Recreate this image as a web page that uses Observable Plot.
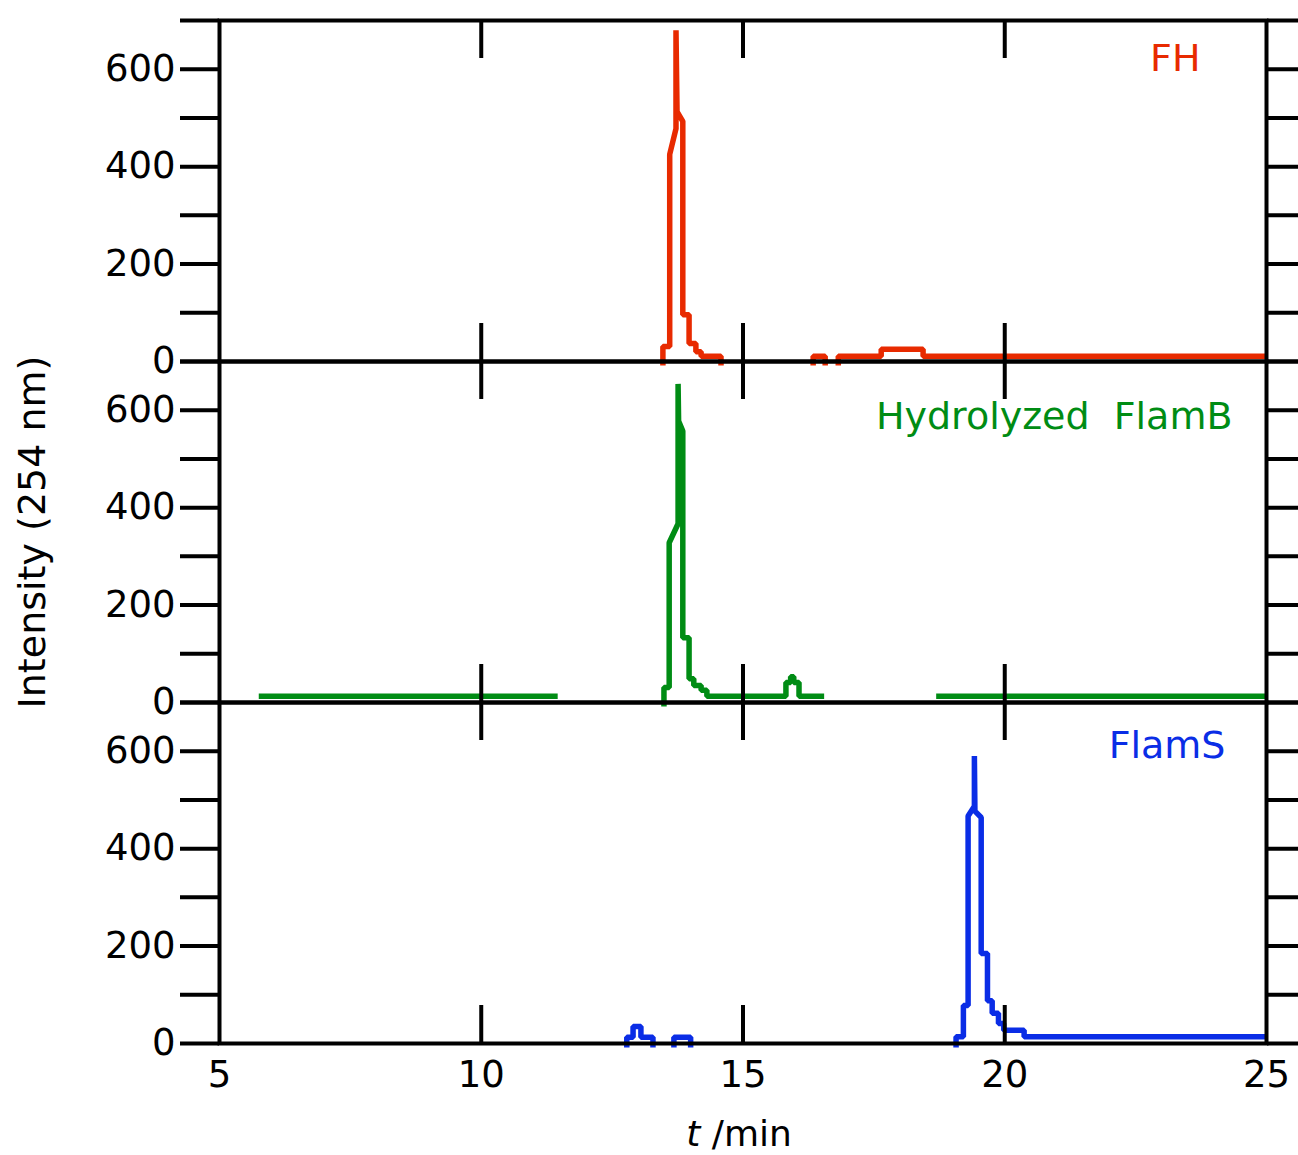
<!DOCTYPE html>
<html>
<head>
<meta charset="utf-8">
<script src="https://cdn.jsdelivr.net/npm/d3@7"></script>
<script src="https://cdn.jsdelivr.net/npm/@observablehq/plot@0.6"></script>
<style>
  body { margin: 0; background: #fff; }
  svg { display: block; }
  .series-label { word-spacing: 12px; }
</style>
</head>
<body>
<div id="chart"></div>
<script>
// ---- data ----
const seriesNames = ["FH", "Hydrolyzed FlamB", "FlamS"];
const seriesColors = ["#e82a00", "#008c14", "#0a2de6"];

// null entries mark gaps in the recorded trace
const fhTime = [13.47, 13.47, 13.60, 13.60, 13.72, 13.72, 13.74, 13.85, 13.85, 13.97, 13.97, 14.10, 14.10, 14.20, 14.20, 14.58, 14.58, null,
                16.34, 16.34, 16.57, 16.57, null,
                16.82, 16.82, 17.64, 17.64, 18.44, 18.44, 25.0];
const fhIntensity = [-8, 31, 31, 425, 478, 680, 513, 493, 96, 96, 37, 37, 20, 20, 11, 11, -8, null,
                     -8, 11, 11, -8, null,
                     -8, 11, 11, 25, 25, 11, 11];

const flamBTime = [5.75, 11.46, null,
                   13.49, 13.49, 13.59, 13.59, 13.76, 13.76, 13.77, 13.85, 13.85, 13.97, 13.97, 14.06, 14.06, 14.20, 14.20, 14.31, 14.31,
                   15.82, 15.82, 15.91, 15.91, 15.97, 15.97, 16.07, 16.07, 16.55, null,
                   18.69, 25.0];
const flamBIntensity = [13, 13, null,
                        -8, 31, 31, 328, 367, 654, 578, 557, 133, 133, 49, 49, 35, 35, 25, 25, 13,
                        13, 41, 41, 53, 53, 41, 41, 13, 13, null,
                        13, 13];

const flamSTime = [12.78, 12.78, 12.90, 12.90, 13.05, 13.05, 13.28, 13.28, null,
                   13.68, 13.68, 14.00, 14.00, null,
                   19.07, 19.07, 19.21, 19.21, 19.30, 19.30, 19.42, 19.42, 19.43, 19.55, 19.55, 19.67, 19.67, 19.76, 19.76, 19.88, 19.88, 19.98, 19.98, 20.37, 20.37, 25.0];
const flamSIntensity = [-8, 13, 13, 35, 35, 13, 13, -8, null,
                        -8, 13, 13, -8, null,
                        -8, 14, 14, 78, 78, 467, 487, 590, 477, 464, 185, 185, 88, 88, 62, 62, 41, 41, 27, 27, 14, 14];

const xTicks = [5, 10, 15, 20, 25];
const xInnerTicks = [10, 15, 20];
const yTicks = [0, 100, 200, 300, 400, 500, 600, 700];
const yTickLabels = [0, 200, 400, 600];
const xDomain = [5, 25];
const yDomain = [0, 700];

// ---- build table for Plot ----
function toRows(name, ts, vs) {
  return ts.map((t, i) => ({name, t, v: vs[i]}));
}
const rows = [
  ...toRows(seriesNames[0], fhTime, fhIntensity),
  ...toRows(seriesNames[1], flamBTime, flamBIntensity),
  ...toRows(seriesNames[2], flamSTime, flamSIntensity)
];

const labelOffsets = [
  {dx: -66, dy: 24},
  {dx: -34, dy: 41},
  {dx: -41, dy: 29}
];

const labelMarks = seriesNames.map((name, i) =>
  Plot.text([name], {
    fy: d => d,
    text: d => d,
    frameAnchor: "top-right",
    dx: labelOffsets[i].dx,
    dy: labelOffsets[i].dy,
    fill: seriesColors[i],
    fontSize: 38,
    className: "series-label"
  })
);

const chart = Plot.plot({
  width: 1298,
  height: 1155,
  marginLeft: 219,
  marginRight: 32,
  marginTop: 19,
  marginBottom: 112,
  style: {fontFamily: "DejaVu Sans", fontSize: "37px", background: "white", color: "black"},
  x: {domain: xDomain},
  y: {domain: yDomain},
  fy: {domain: seriesNames, padding: 0, axis: null},
  color: {domain: seriesNames, range: seriesColors},
  marks: [
    Plot.line(rows, {
      x: "t", y: "v", fy: "name", z: "name", stroke: "name",
      strokeWidth: 5.5, strokeLinejoin: "miter", strokeLinecap: "butt"
    }),
    Plot.frame({stroke: "black", strokeWidth: 4}),
    Plot.tickX(xInnerTicks, {x: d => d, insetTop: 303, stroke: "black", strokeWidth: 4}),
    Plot.tickX(xInnerTicks, {x: d => d, insetBottom: 303, stroke: "black", strokeWidth: 4}),
    Plot.axisY(yTicks, {
      anchor: "left", tickSize: 39, tickPadding: 5, strokeWidth: 4,
      tickFormat: d => yTickLabels.includes(d) ? String(d) : "",
      label: null, fontSize: 37
    }),
    Plot.axisY(yTicks, {
      anchor: "right", tickSize: 39, strokeWidth: 4,
      tickFormat: () => "", label: null
    }),
    Plot.axisX(xTicks, {
      anchor: "bottom", tickSize: 0, tickPadding: 17,
      tickFormat: d => String(d), label: null, fontSize: 37
    }),
    ...labelMarks
  ]
});

const svg = d3.select(chart);
svg.append("text")
  .attr("transform", "translate(32,532) rotate(-90)")
  .attr("text-anchor", "middle")
  .attr("dominant-baseline", "central")
  .attr("font-family", "DejaVu Sans")
  .attr("font-size", 38)
  .attr("fill", "black")
  .text("Intensity (254 nm)");

const xl = svg.append("text")
  .attr("x", 739)
  .attr("y", 1146)
  .attr("text-anchor", "middle")
  .attr("font-family", "DejaVu Sans")
  .attr("font-size", 36)
  .attr("fill", "black");
xl.append("tspan").attr("font-style", "italic").text("t");
xl.append("tspan").text(" /min");

document.getElementById("chart").appendChild(chart);
</script>
</body>
</html>
